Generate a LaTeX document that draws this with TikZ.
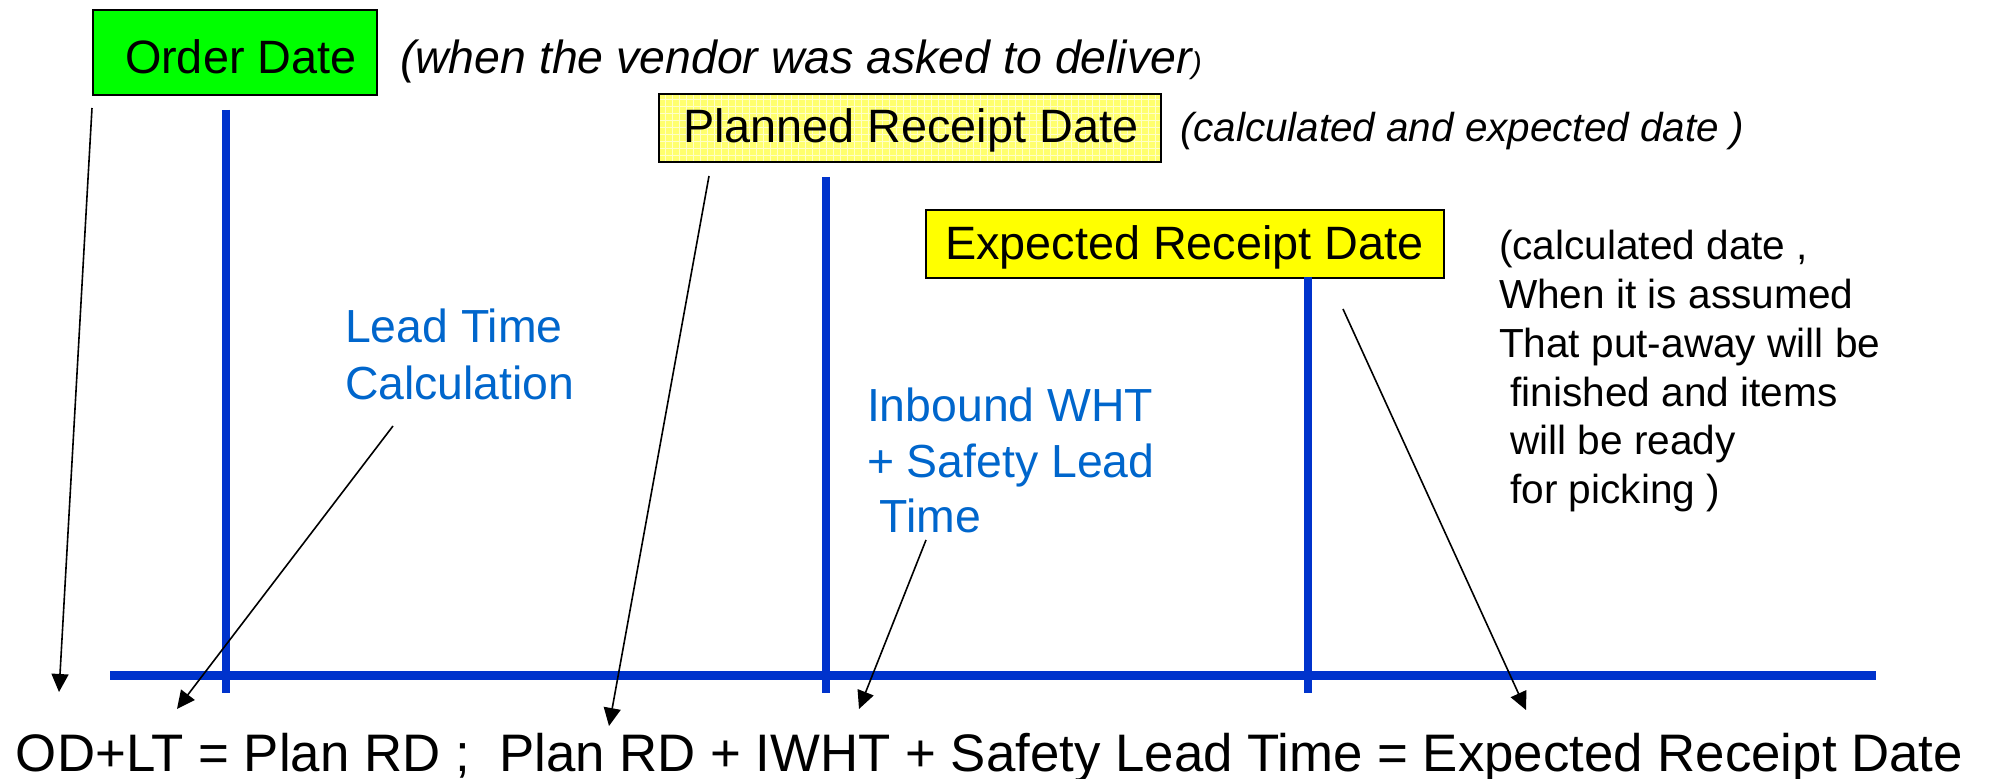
\documentclass[tikz,border=0pt]{standalone}
\usepackage{fontspec}
\setmainfont{Liberation Sans}
\usetikzlibrary{arrows.meta}
\definecolor{lineblue}{RGB}{0,51,204}
\definecolor{textblue}{RGB}{0,102,204}
\definecolor{odgreen}{RGB}{0,255,0}
\definecolor{erdyellow}{RGB}{255,255,0}
\definecolor{prdyellow}{RGB}{255,255,110}
\definecolor{prdgrid}{RGB}{255,255,200}
\begin{document}
\begin{tikzpicture}[x=0.5pt,y=-0.5pt,
  datebox/.style={draw=black, line width=1pt, inner sep=0pt, anchor=north west},
  txt/.style={anchor=base west, inner sep=0pt, outer sep=0pt},
  boxtext/.style={txt, font=\fontsize{23.4}{28}\selectfont},
  notebig/.style={txt, font=\fontsize{23.2}{28}\selectfont\itshape},
  notesmall/.style={txt, font=\fontsize{20.2}{24.5}\selectfont\itshape},
  sidetext/.style={txt, font=\fontsize{20.3}{24.5}\selectfont},
  bluetext/.style={txt, text=textblue, font=\fontsize{23.2}{28}\selectfont},
  formula/.style={txt, font=\fontsize{26.4}{32}\selectfont},
  timeline/.style={draw=lineblue, line width=4.5pt},
  tick/.style={draw=lineblue, line width=4pt},
  conn/.style={draw=black, line width=0.8pt, -{Triangle[length=9pt,width=8.5pt]}}
]
\fill[white] (0,0) rectangle (1993,779);
\useasboundingbox (0,0) rectangle (1993,779);

% boxes
\node[datebox, fill=odgreen, minimum width=142pt, minimum height=42.5pt] (odbox) at (92,9) {};
\node[datebox, fill=prdyellow, minimum width=251pt, minimum height=34pt,
  path picture={\draw[prdgrid, line width=0.5pt] (path picture bounding box.south west) grid[step=3.5pt] (path picture bounding box.north east);}] (prbox) at (658,93) {};
\node[datebox, fill=erdyellow, minimum width=259pt, minimum height=34pt] (erbox) at (925,209) {};

\node[boxtext] (odtext) at (125,74) {Order Date};
\node[boxtext] (prtext) at (683,143) {Planned Receipt Date};
\node[boxtext] (ertext) at (945,260) {Expected Receipt Date};

% notes
\node[notebig] (odnote) at (400,74) {(when the vendor was asked to deliver{\fontsize{15}{18}\selectfont)}};
\node[notesmall] (prnote) at (1180,142) {(calculated and expected date )};

\node[sidetext] (s1) at (1499,260) {(calculated date ,};
\node[sidetext] (s2) at (1499,309) {When it is assumed};
\node[sidetext] (s3) at (1499,358) {That put-away will be};
\node[sidetext] (s4) at (1499,407) {\ finished and items};
\node[sidetext] (s5) at (1499,455) {\ will be ready};
\node[sidetext] (s6) at (1499,504) {\ for picking )};

% blue labels
\node[bluetext] (lt1) at (345,343) {Lead Time};
\node[bluetext] (lt2) at (345,400) {Calculation};
\node[bluetext] (ib1) at (867,422) {Inbound WHT};
\node[bluetext] (ib2) at (867,478) {+ Safety Lead};
\node[bluetext] (ib3) at (867,533) {\ Time};

% timeline
\coordinate (tlL) at (110,676);
\coordinate (tlR) at (1876,676);
\draw[timeline] (tlL) -- (tlR);
\coordinate (v1t) at (226,110); \coordinate (v1b) at (226,693);
\coordinate (v2t) at (826,177); \coordinate (v2b) at (826,693);
\coordinate (v3t) at (1308,277); \coordinate (v3b) at (1308,693);
\draw[tick] (v1t) -- (v1b);
\draw[tick] (v2t) -- (v2b);
\draw[tick] (v3t) -- (v3b);

% formula
\node[formula] (fml) at (16,772) {OD+LT = Plan RD ;\ \ Plan RD + IWHT + Safety Lead Time = Expected Receipt Date};

% connectors
\coordinate (a1s) at (92,108);   \coordinate (a1e) at (59,692);
\coordinate (a2s) at (393,426);  \coordinate (a2e) at (177,709);
\coordinate (a3s) at (709,176);  \coordinate (a3e) at (609,726);
\coordinate (a4s) at (926,540);  \coordinate (a4e) at (859,709);
\coordinate (a5s) at (1343,309); \coordinate (a5e) at (1526,710);
\draw[conn] (a1s) -- (a1e);
\draw[conn] (a2s) -- (a2e);
\draw[conn] (a3s) -- (a3e);
\draw[conn] (a4s) -- (a4e);
\draw[conn] (a5s) -- (a5e);
\end{tikzpicture}
\end{document}
